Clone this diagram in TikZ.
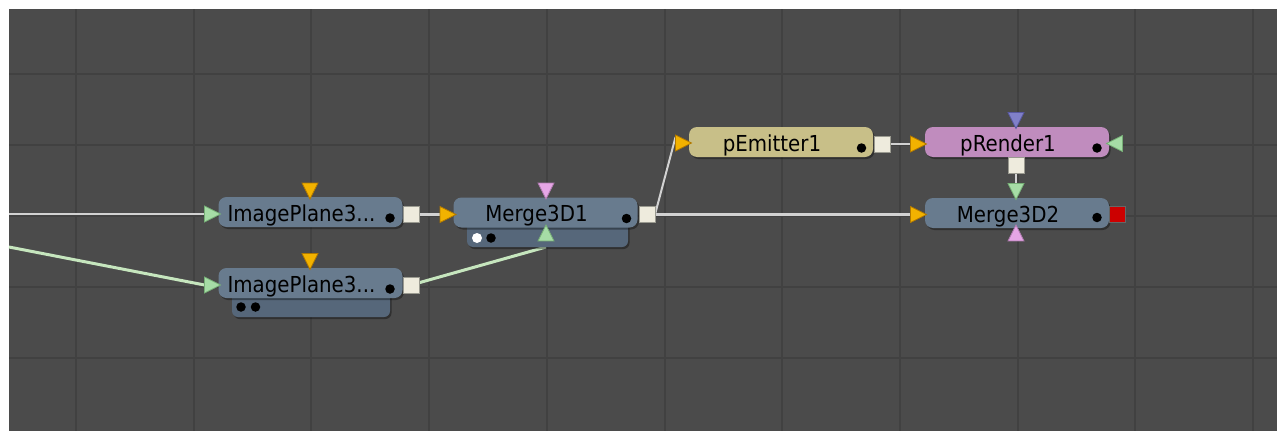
\documentclass[tikz,border=0pt]{standalone}
\usepackage{fontspec}
\setmainfont{DejaVu Sans Condensed}
\usetikzlibrary{shapes.geometric,shadows}
\pgfdeclarelayer{bg}
\pgfdeclarelayer{edges}
\pgfsetlayers{bg,edges,main}
\definecolor{bgc}{HTML}{4B4B4B}
\definecolor{gridc}{HTML}{414141}
\definecolor{slate}{HTML}{687B8E}
\definecolor{panelc}{HTML}{56677A}
\definecolor{khaki}{HTML}{C8BF88}
\definecolor{orchid}{HTML}{C08CBE}
\definecolor{cream}{HTML}{EEEBDD}
\definecolor{creamedge}{HTML}{9A9A90}
\definecolor{portorange}{HTML}{F2B200}
\definecolor{portorangeedge}{HTML}{B07800}
\definecolor{portgreen}{HTML}{A6DCA6}
\definecolor{portgreenedge}{HTML}{76AE76}
\definecolor{portpink}{HTML}{E6A6E6}
\definecolor{portpinkedge}{HTML}{AE7AAE}
\definecolor{portblue}{HTML}{8080C8}
\definecolor{portblueedge}{HTML}{5858A0}
\definecolor{wiregray}{HTML}{D2D2D2}
\definecolor{wiregreen}{HTML}{C6E6BE}
\definecolor{redsq}{HTML}{CC0000}
\tikzset{
  gridline/.style={draw=gridc, line width=2pt},
  body/.style={rectangle, rounded corners=8pt, minimum width=184pt, minimum height=30pt,
    inner sep=0pt, outer sep=0pt,
    drop shadow={shadow xshift=1.5pt, shadow yshift=-2pt, fill=black, opacity=0.35}},
  panel/.style={rectangle, rounded corners=6pt, fill=panelc, inner sep=0pt, outer sep=0pt,
    drop shadow={shadow xshift=1.5pt, shadow yshift=-2pt, fill=black, opacity=0.35}},
  lbl/.style={font=\fontsize{22}{24}\selectfont, inner sep=0pt, anchor=base, text=black},
  bdot/.style={circle, fill=black, minimum size=9.5pt, inner sep=0pt},
  wdot/.style={circle, fill=white, minimum size=10pt, inner sep=0pt},
  tri/.style={isosceles triangle, isosceles triangle stretches, minimum width=16pt,
    minimum height=16pt, inner sep=0pt, outer sep=0pt, line width=0.8pt},
  porange/.style={tri, fill=portorange, draw=portorangeedge},
  pgreen/.style={tri, fill=portgreen, draw=portgreenedge},
  ppink/.style={tri, fill=portpink, draw=portpinkedge},
  pblue/.style={tri, fill=portblue, draw=portblueedge},
  sq/.style={rectangle, fill=cream, draw=creamedge, line width=0.8pt, minimum size=16pt, inner sep=0pt, outer sep=0pt},
  redport/.style={rectangle, fill=redsq, draw=black!60, line width=0.8pt, minimum size=16pt, inner sep=0pt, outer sep=0pt},
  wire/.style={draw=wiregray, line width=2.5pt},
  gwire/.style={draw=wiregreen, line width=3pt}
}
\begin{document}
\begin{tikzpicture}[x=1pt,y=-1pt]
\useasboundingbox (0,0) rectangle (1277,431);
\begin{pgfonlayer}{bg}
  \fill[white] (0,0) rectangle (1277,431);
  \fill[bgc] (9,9) rectangle (1277,431);
  \foreach \i in {0,...,10} \draw[gridline] ({76+117.7*\i},9) -- ({76+117.7*\i},431);
  \foreach \yy in {74,145,216,287,358} \draw[gridline] (9,\yy) -- (1277,\yy);
\end{pgfonlayer}

% free ends at the left edge
\coordinate (in1) at (9,214);
\coordinate (in2) at (9,247);

% ImagePlane3 (top)
\node[body, fill=slate] (ip1) at (310.5,212) {};
\node[lbl] (ip1t) at (301.5,221) {ImagePlane3...};
\node[bdot] (ip1d) at (390,218) {};
\node[porange, shape border rotate=270] (ip1top) at (310,188) {};
\node[pgreen] (ip1in) at (209.5,214) {};
\node[sq] (ip1out) at (411,214.5) {};

% ImagePlane3 (bottom)
\node[panel, minimum width=158pt, minimum height=28pt, anchor=south west] (ip2p) at (232,317) {};
\node[bdot] (ip2pd1) at (241,307) {};
\node[bdot] (ip2pd2) at (255.5,307) {};
\node[body, fill=slate] (ip2) at (310.5,283) {};
\node[lbl] (ip2t) at (301.5,292) {ImagePlane3...};
\node[bdot] (ip2d) at (390,289) {};
\node[porange, shape border rotate=270] (ip2top) at (310,258.5) {};
\node[pgreen] (ip2in) at (209.5,285) {};
\node[sq] (ip2out) at (411,285) {};

% Merge3D1
\node[panel, minimum width=161pt, minimum height=28pt, anchor=south west] (m1p) at (467,247) {};
\node[wdot] (m1pd1) at (477,238) {};
\node[bdot] (m1pd2) at (491,238) {};
\node[body, fill=slate] (m1) at (545.5,212.5) {};
\node[lbl] (m1t) at (536.5,221.5) {Merge3D1};
\node[bdot] (m1d) at (626.5,218.5) {};
\node[ppink, shape border rotate=270] (m1top) at (546,188) {};
\node[pgreen, shape border rotate=90] (m1bot) at (546,236) {};
\node[porange] (m1in) at (445,214.5) {};
\node[sq] (m1out) at (647,214.5) {};

% pEmitter1
\node[body, fill=khaki] (pe) at (781,142) {};
\node[lbl] (pet) at (772,151) {pEmitter1};
\node[bdot] (ped) at (861.5,148) {};
\node[porange] (pein) at (680.5,143) {};
\node[sq] (peout) at (882,144) {};

% pRender1
\node[body, fill=orchid] (pr) at (1017,142) {};
\node[lbl] (prt) at (1008,151) {pRender1};
\node[bdot] (prd) at (1097,148) {};
\node[porange] (prin) at (915.5,144) {};
\node[pblue, shape border rotate=270] (prtop) at (1016,117.5) {};
\node[pgreen, shape border rotate=180] (prright) at (1117.5,143.5) {};
\node[sq] (prout) at (1016,165) {};

% Merge3D2
\node[body, fill=slate] (m2) at (1017,213) {};
\node[lbl] (m2t) at (1008,222) {Merge3D2};
\node[bdot] (m2d) at (1097,217.5) {};
\node[porange] (m2in) at (915.5,214.5) {};
\node[pgreen, shape border rotate=270] (m2top) at (1016,188.5) {};
\node[ppink, shape border rotate=90] (m2bot) at (1016,236) {};
\node[redport] (m2out) at (1117.5,214.5) {};

% connectors
\begin{pgfonlayer}{edges}
  \draw[wire] (in1) -- (ip1in.lower side);
  \draw[gwire] (in2) -- (ip2in.lower side);
  \draw[wire] (ip1out) -- (m1in);
  \draw[gwire] (ip2out) -- ([yshift=-11pt]m1bot.center);
  \draw[wire, line width=2pt] (m1out.east) -- ([yshift=6pt]pein.lower side);
  \draw[wire] (m1out) -- (m2in);
  \draw[wire] (peout) -- (prin);
  \draw[wire] (prout) -- (m2top);
\end{pgfonlayer}
\end{tikzpicture}
\end{document}
